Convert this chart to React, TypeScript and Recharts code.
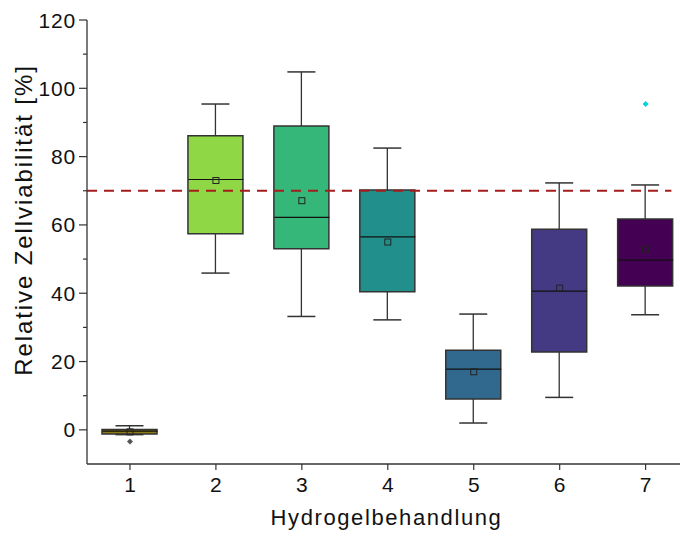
import React from 'react';
import { ComposedChart, Bar, Scatter, XAxis, YAxis, ReferenceLine, Cell } from 'recharts';

const categories = [1, 2, 3, 4, 5, 6, 7];
const whiskerLow = [-1.4, 45.9, 33.2, 32.2, 2.0, 9.5, 33.7];
const q1 = [-1.2, 57.4, 53.0, 40.4, 9.0, 22.8, 42.1];
const median = [-0.4, 73.3, 62.2, 56.5, 17.8, 40.6, 49.7];
const q3 = [0.1, 86.1, 89.0, 70.2, 23.3, 58.7, 61.7];
const whiskerHigh = [1.2, 95.4, 104.8, 82.5, 33.9, 72.3, 71.7];
const mean = [-0.6, 73.0, 67.1, 55.0, 17.0, 41.5, 52.9];
const boxColors = ['#8C7B12', '#8FD744', '#35B779', '#21908C', '#31688E', '#443A83', '#440154'];
const outlierX = [1, 7];
const outlierY = [-3.4, 95.4];
const outlierColors = ['#555555', '#00D2DE'];
const yTicks = [0, 10, 20, 30, 40, 50, 60, 70, 80, 90, 100, 110, 120];
const xTicks = [1, 2, 3, 4, 5, 6, 7];
const threshold = 70;

const data = categories.map((c, i) => ({
  x: c,
  whisker: [whiskerLow[i], whiskerHigh[i]],
  box: [q1[i], q3[i]],
  median: median[i],
  mean: mean[i],
}));
const outliers = outlierX.map((x, i) => ({ x, y: outlierY[i], color: outlierColors[i] }));

const FONT = '"Liberation Sans", Arial, sans-serif';
const BOX_W = 55;
const CAP_W = 28;

const WhiskerShape = (props: any) => {
  const { x, y, width, height } = props;
  const cx = x + width / 2;
  return (
    <g>
      <line x1={cx} x2={cx} y1={y} y2={y + height} stroke="#333" strokeWidth={1.3} />
      <line x1={cx - CAP_W / 2} x2={cx + CAP_W / 2} y1={y} y2={y} stroke="#333" strokeWidth={1.5} />
      <line x1={cx - CAP_W / 2} x2={cx + CAP_W / 2} y1={y + height} y2={y + height} stroke="#333" strokeWidth={1.5} />
    </g>
  );
};

const MedianShape = (props: any) => {
  const { cx, cy } = props;
  return <line x1={cx - BOX_W / 2} x2={cx + BOX_W / 2} y1={cy} y2={cy} stroke="#111" strokeWidth={1.2} />;
};

const MeanShape = (props: any) => {
  const { cx, cy } = props;
  return <rect x={cx - 3} y={cy - 3} width={6} height={6} fill="none" stroke="#222" strokeWidth={1} />;
};

const OutlierShape = (props: any) => {
  const { cx, cy, payload } = props;
  const r = 3;
  return (
    <path
      d={`M${cx},${cy - r} L${cx + r},${cy} L${cx},${cy + r} L${cx - r},${cy} Z`}
      fill={payload.color}
    />
  );
};

const YTick = (props: any) => {
  const { x, y, payload } = props;
  const v = payload.value;
  const major = v % 20 === 0;
  const axisX = x + 11;
  return (
    <g>
      <line x1={axisX - (major ? 8 : 4)} x2={axisX} y1={y} y2={y} stroke="#333" strokeWidth={1.2} />
      {major && (
        <text x={x} y={y} dy="0.36em" textAnchor="end" fontSize={21} fill="#111" fontFamily={FONT} letterSpacing={0.8}>
          {v}
        </text>
      )}
    </g>
  );
};

const YTitle = () => {
  const cy = 220;
  const cx = 32;
  return (
    <text x={cx} y={cy} transform={`rotate(-90, ${cx}, ${cy})`} textAnchor="middle" fontSize={24} fill="#111" fontFamily={FONT} letterSpacing={1.9}>
      Relative Zellviabilität [%]
    </text>
  );
};

const XTitle = (props: any) => {
  const { viewBox } = props;
  const cx = viewBox.x + viewBox.width / 2 + 3;
  return (
    <text x={cx} y={525} textAnchor="middle" fontSize={22} fill="#111" fontFamily={FONT} letterSpacing={1.6}>
      Hydrogelbehandlung
    </text>
  );
};

export default function App() {
  return (
    <div style={{ position: 'absolute', left: 0, top: 0, background: '#fff' }}>
      <ComposedChart width={681} height={533} data={data} margin={{ top: 20, right: 1, bottom: 0, left: 0 }}>
        <XAxis
          xAxisId="main"
          dataKey="x"
          type="number"
          domain={[0.5, 7.4]}
          ticks={xTicks}
          allowDataOverflow
          height={69}
          tickSize={6}
          tickMargin={7}
          axisLine={{ stroke: '#333', strokeWidth: 1.3 }}
          tickLine={{ stroke: '#333', strokeWidth: 1.2 }}
          tick={{ fontSize: 21, fill: '#111', fontFamily: FONT }}
          label={<XTitle />}
        />
        <XAxis xAxisId="w" dataKey="x" type="number" domain={[0.5, 7.4]} allowDataOverflow hide orientation="top" height={0} />
        <XAxis xAxisId="b" dataKey="x" type="number" domain={[0.5, 7.4]} allowDataOverflow hide orientation="top" height={0} />
        <YAxis
          type="number"
          domain={[-10, 120]}
          ticks={yTicks}
          allowDataOverflow
          width={87}
          tickSize={0}
          tickMargin={11}
          tickLine={false}
          axisLine={{ stroke: '#333', strokeWidth: 1.3 }}
          tick={<YTick />}
          interval={0}
          label={<YTitle />}
        />
        <ReferenceLine
          xAxisId="main"
          segment={[{ x: 0.5, y: threshold }, { x: 7.3, y: threshold }]}
          stroke="#A51C1C"
          strokeWidth={2}
          strokeDasharray="10 7"
        />
        <Bar xAxisId="w" dataKey="whisker" barSize={BOX_W} shape={<WhiskerShape />} isAnimationActive={false} />
        <Bar xAxisId="b" dataKey="box" barSize={BOX_W} stroke="#333" strokeWidth={1.5} isAnimationActive={false}>
          {data.map((d, i) => (
            <Cell key={i} fill={boxColors[i]} />
          ))}
        </Bar>
        <Scatter xAxisId="main" dataKey="median" shape={<MedianShape />} isAnimationActive={false} />
        <Scatter xAxisId="main" dataKey="mean" shape={<MeanShape />} isAnimationActive={false} />
        <Scatter xAxisId="main" data={outliers} dataKey="y" shape={<OutlierShape />} isAnimationActive={false} />
      </ComposedChart>
    </div>
  );
}
